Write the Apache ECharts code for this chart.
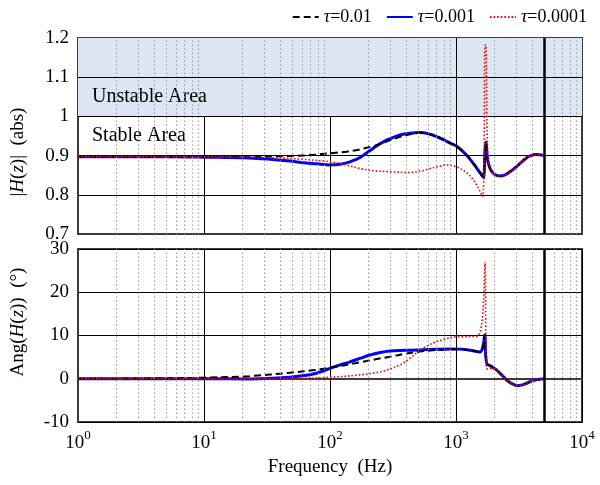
<!DOCTYPE html>
<html>
<head>
<meta charset="utf-8">
<script src="https://cdn.jsdelivr.net/npm/echarts@6/dist/echarts.min.js"></script>
<style>
  html, body { margin: 0; padding: 0; background: #fff; }
  #chart { width: 600px; height: 485px; }
</style>
</head>
<body>
<div id="chart"></div>
<script>
// Series labels (tau values)
const seriesNames = ['τ=0.01', 'τ=0.001', 'τ=0.0001'];

// Magnitude |H(z)| vs frequency (Hz)
const magTau01 = [
  [1, 0.897], [5, 0.897], [10, 0.897], [20, 0.897], [48, 0.899], [75, 0.902], [100, 0.906],
  [135, 0.910], [173, 0.916], [230, 0.926], [299, 0.939], [400, 0.952], [518, 0.958],
  [600, 0.956], [703, 0.950], [800, 0.941], [896, 0.932], [1012, 0.924], [1200, 0.903],
  [1372, 0.880], [1560, 0.856], [1648, 0.846], [1700, 0.915], [1730, 0.935], [1760, 0.905],
  [1805, 0.880], [1900, 0.862], [2050, 0.851], [2234, 0.848], [2450, 0.851], [2683, 0.859],
  [2950, 0.869], [3221, 0.880], [3500, 0.890], [3748, 0.897], [4236, 0.903], [4600, 0.902], [5000, 0.900]
];
const magTau001 = [
  [1, 0.897], [5, 0.897], [10, 0.896], [23, 0.894], [35, 0.890], [48, 0.886], [62, 0.882],
  [78, 0.879], [100, 0.876], [120, 0.878], [144, 0.884], [160, 0.890], [173, 0.895],
  [190, 0.904], [208, 0.913], [235, 0.925], [265, 0.935], [300, 0.943], [359, 0.9525],
  [430, 0.957], [518, 0.959], [600, 0.956], [703, 0.948], [800, 0.940], [896, 0.932],
  [1012, 0.924], [1200, 0.903], [1372, 0.880], [1560, 0.855], [1648, 0.844], [1700, 0.915],
  [1730, 0.935], [1760, 0.905], [1805, 0.880], [1900, 0.862], [2050, 0.851], [2234, 0.848],
  [2450, 0.851], [2683, 0.859], [2950, 0.869], [3221, 0.880], [3500, 0.890], [3748, 0.897],
  [4236, 0.903], [4600, 0.902], [5000, 0.900]
];
const magTau0001 = [
  [1, 0.897], [10, 0.897], [23, 0.896], [40, 0.894], [58, 0.891], [100, 0.8845],
  [135, 0.876], [173, 0.867], [230, 0.861], [299, 0.859], [431, 0.857], [530, 0.861],
  [622, 0.867], [740, 0.873], [844, 0.876], [950, 0.874], [1076, 0.867], [1230, 0.855],
  [1372, 0.838], [1500, 0.818], [1629, 0.795], [1700, 1.182], [1725, 1.182],
  [1770, 0.95], [1830, 0.880], [2000, 0.853], [2234, 0.848], [2450, 0.851], [2683, 0.859],
  [2950, 0.869], [3221, 0.880], [3500, 0.890], [3748, 0.897], [4236, 0.903], [4600, 0.902], [5000, 0.900]
];

// Phase Ang(H(z)) in degrees vs frequency (Hz)
const angTau01 = [
  [1, 0], [5, 0.1], [10, 0.25], [23, 0.6], [48, 1.4], [75, 2.0], [100, 2.55], [135, 3.2],
  [173, 3.8], [230, 4.5], [299, 5.1], [400, 5.8], [518, 6.3], [700, 6.65], [896, 6.8],
  [1100, 6.8], [1291, 6.6], [1550, 6.2], [1640, 7.6], [1690, 10.1], [1750, 3.6],
  [1900, 2.9], [2104, 2.0], [2300, 0.9], [2525, -0.3], [2800, -1.2], [3120, -1.6],
  [3450, -1.3], [3866, -0.7], [4400, -0.2], [5000, 0]
];
const angTau001 = [
  [1, 0], [10, 0], [23, -0.05], [35, 0.1], [48, 0.35], [65, 0.8], [78, 1.26], [100, 2.4],
  [120, 3.2], [144, 3.9], [175, 4.75], [208, 5.5], [250, 6.05], [299, 6.4], [360, 6.55],
  [431, 6.6], [600, 6.75], [896, 6.9], [1100, 6.85], [1291, 6.6], [1550, 6.2], [1640, 7.6],
  [1690, 10.1], [1750, 3.6], [1900, 2.9], [2104, 2.0], [2300, 0.9], [2525, -0.3],
  [2800, -1.2], [3120, -1.6], [3450, -1.3], [3866, -0.7], [4400, -0.2], [5000, 0]
];
const angTau0001 = [
  [1, 0], [23, 0], [60, 0.1], [100, 0.35], [173, 0.9], [249, 1.6], [300, 2.3],
  [359, 3.2], [430, 4.7], [518, 6.6], [600, 7.7], [703, 8.6], [850, 9.3],
  [1012, 9.7], [1458, 9.8], [1560, 11.0], [1640, 16.0], [1700, 27.0],
  [1740, 2.5], [1800, 2.2], [1950, 2.4], [2104, 2.0], [2300, 0.9], [2525, -0.3],
  [2800, -1.2], [3120, -1.6], [3450, -1.3], [3866, -0.7], [4400, -0.2], [5000, 0]
];

// Decade and minor (2..9 per decade) grid frequencies, plus the Nyquist marker
const decadeFreqs = [10, 100, 1000];
const minorFreqs = [
  2, 3, 4, 5, 6, 7, 8, 9,
  20, 30, 40, 50, 60, 70, 80, 90,
  200, 300, 400, 500, 600, 700, 800, 900,
  2000, 3000, 4000, 5000, 6000, 7000, 8000, 9000
];
const nyquistFreq = 5000;

const FONT = '"Liberation Serif", "Times New Roman", serif';
const AXIS_COLOR = '#3c3c3c';

const chart = echarts.init(document.getElementById('chart'), null, { renderer: 'canvas' });

const lineStyles = [
  { color: '#000000', width: 2, type: [7, 4] },
  { color: '#0000ff', width: 3, type: 'solid' },
  { color: '#ff0000', width: 1.6, type: [1.6, 2] }
];
const zOrder = [4, 3, 5];

function dataSeries(idx, data, axisIdx) {
  return {
    name: seriesNames[idx],
    type: 'line',
    xAxisIndex: axisIdx,
    yAxisIndex: axisIdx,
    data: data,
    symbol: 'none',
    showSymbol: false,
    smooth: 0.35,
    lineStyle: lineStyles[idx],
    itemStyle: { color: lineStyles[idx].color },
    z: zOrder[idx],
    silent: true
  };
}

const solidBlack = { type: 'solid', color: '#000', width: 1 };

function gridLines(extra) {
  const items = minorFreqs.map(f => ({ xAxis: f }));
  items.push({ xAxis: nyquistFreq, lineStyle: { type: 'solid', color: '#000', width: 2.5 } });
  return {
    silent: true,
    symbol: ['none', 'none'],
    label: { show: false },
    animation: false,
    lineStyle: { type: [1.5, 2.5], color: '#9a9a9a', width: 1 },
    data: items.concat(extra)
  };
}

// Decade lines in the magnitude panel: 10 and 100 Hz stop at the shaded band
const topDecadeLines = decadeFreqs.map(f => [
  { coord: [f, 0.7], lineStyle: solidBlack },
  { coord: [f, f === 1000 ? 1.2 : 1.0] }
]);

function xAxisCfg(gridIndex, showLabels) {
  return {
    type: 'log',
    logBase: 10,
    gridIndex: gridIndex,
    min: 1,
    max: 10000,
    axisLine: { show: true, lineStyle: { color: AXIS_COLOR, width: 2 } },
    axisTick: { show: false },
    splitLine: { show: showLabels, lineStyle: { color: '#000', width: 1 } },
    axisLabel: {
      show: showLabels,
      margin: 7,
      formatter: v => '{b|10}{s|' + Math.round(Math.log10(v)) + '}',
      rich: {
        b: { fontFamily: FONT, fontSize: 19, color: '#000', lineHeight: 24, verticalAlign: 'bottom' },
        s: { fontFamily: FONT, fontSize: 13, color: '#000', lineHeight: 13, verticalAlign: 'top' }
      }
    },
    name: showLabels ? 'Frequency  (Hz)' : '',
    nameLocation: 'middle',
    nameGap: 36,
    nameTextStyle: { fontFamily: FONT, fontSize: 19, color: '#000' }
  };
}

function yAxisCfg(gridIndex, min, max, interval) {
  return {
    type: 'value',
    gridIndex: gridIndex,
    min: min,
    max: max,
    interval: interval,
    axisLine: { show: true, lineStyle: { color: AXIS_COLOR, width: 2 } },
    axisTick: { show: false },
    splitLine: { show: true, lineStyle: { color: '#000', width: 1 } },
    axisLabel: { fontFamily: FONT, fontSize: 19, color: '#000', margin: 9 }
  };
}

const option = {
  animation: false,
  backgroundColor: '#fff',
  legend: {
    data: seriesNames,
    top: 3,
    right: 8,
    itemWidth: 26,
    itemHeight: 10,
    itemGap: 14,
    itemStyle: { opacity: 0 },
    formatter: n => '{i|τ}' + n.slice(1),
    textStyle: {
      fontFamily: FONT, fontSize: 18, color: '#000',
      rich: { i: { fontFamily: FONT, fontSize: 18, fontStyle: 'italic', color: '#000' } }
    }
  },
  grid: [
    { left: 78, top: 38, width: 504, height: 196, show: true, borderColor: AXIS_COLOR, borderWidth: 2, backgroundColor: 'transparent' },
    { left: 78, top: 249, width: 504, height: 173, show: true, borderColor: AXIS_COLOR, borderWidth: 2, backgroundColor: 'transparent' }
  ],
  xAxis: [xAxisCfg(0, false), xAxisCfg(1, true)],
  yAxis: [yAxisCfg(0, 0.7, 1.2, 0.1), yAxisCfg(1, -10, 30, 10)],
  graphic: [
    {
      type: 'text', x: 18, y: 152, rotation: Math.PI / 2,
      style: {
        text: '|{i|H}({i|z})|  (abs)',
        fontFamily: FONT, fontSize: 19, fill: '#000', align: 'center', verticalAlign: 'middle',
        rich: { i: { fontFamily: FONT, fontSize: 19, fontStyle: 'italic', fill: '#000' } }
      }
    },
    {
      type: 'text', x: 18, y: 322, rotation: Math.PI / 2,
      style: {
        text: 'Ang({i|H}({i|z}))  (°)',
        fontFamily: FONT, fontSize: 19, fill: '#000', align: 'center', verticalAlign: 'middle',
        rich: { i: { fontFamily: FONT, fontSize: 19, fontStyle: 'italic', fill: '#000' } }
      }
    }
  ],
  series: [
    {
      type: 'line', xAxisIndex: 0, yAxisIndex: 0, data: [], z: 1, silent: true,
      markArea: {
        silent: true,
        itemStyle: { color: '#dce6f2' },
        label: { fontFamily: FONT, fontSize: 20, color: '#000', position: 'insideLeft', padding: [0, 0, 0, 9] },
        data: [
          [{ yAxis: 1.0 }, { yAxis: 1.2 }],
          [{ yAxis: 1.0, name: 'Unstable Area', itemStyle: { color: 'rgba(0,0,0,0)' } }, { yAxis: 1.1 }],
          [{ yAxis: 0.9, name: 'Stable Area', itemStyle: { color: 'rgba(0,0,0,0)' } }, { yAxis: 1.0 }]
        ]
      },
      markLine: gridLines([
        { yAxis: 1.1, lineStyle: solidBlack },
        { yAxis: 1.0, lineStyle: solidBlack }
      ].concat(topDecadeLines))
    },
    {
      type: 'line', xAxisIndex: 1, yAxisIndex: 1, data: [], z: 1, silent: true,
      markLine: gridLines([])
    },
    dataSeries(1, magTau001, 0),
    dataSeries(0, magTau01, 0),
    dataSeries(2, magTau0001, 0),
    dataSeries(1, angTau001, 1),
    dataSeries(0, angTau01, 1),
    dataSeries(2, angTau0001, 1)
  ]
};

chart.setOption(option);
</script>
</body>
</html>
